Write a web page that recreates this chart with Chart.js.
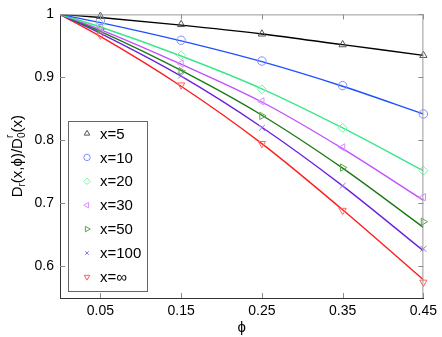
<!DOCTYPE html>
<html>
<head>
<meta charset="utf-8">
<script src="https://cdn.jsdelivr.net/npm/chart.js@4/dist/chart.umd.min.js"></script>
<style>
  html, body { margin: 0; padding: 0; background: #fff; }
  #wrap { width: 442px; height: 337px; }
</style>
</head>
<body>
<div id="wrap"><canvas id="c" width="442" height="337"></canvas></div>
<script>
// phi values where the curves are sampled, and where the symbols sit
var phiLine = [0, 0.05, 0.15, 0.25, 0.35, 0.45];
var phiMarks = [0.05, 0.15, 0.25, 0.35, 0.45];
var xTicks = [0.05, 0.15, 0.25, 0.35, 0.45];
var yTicks = [0.6, 0.7, 0.8, 0.9, 1];

var seriesNames = ["x=5", "x=10", "x=20", "x=30", "x=50", "x=100", "x=\u221e"];

// curves
var lineX5   = [1, 0.995, 0.983, 0.969, 0.952, 0.935];
var lineX10  = [1, 0.987, 0.958, 0.925, 0.886, 0.842];
var lineX20  = [1, 0.980, 0.934, 0.882, 0.820, 0.752];
var lineX30  = [1, 0.976, 0.921, 0.861, 0.787, 0.705];
var lineX50  = [1, 0.973, 0.911, 0.840, 0.756, 0.662];
var lineX100 = [1, 0.970, 0.902, 0.821, 0.728, 0.625];
var lineInf  = [1, 0.965, 0.886, 0.795, 0.690, 0.579];

// symbols (simulation points)
var markX5   = [0.997, 0.984, 0.969, 0.952, 0.935];
var markX10  = [0.990, 0.959, 0.926, 0.887, 0.842];
var markX20  = [0.985, 0.935, 0.881, 0.820, 0.752];
var markX30  = [0.980, 0.922, 0.862, 0.789, 0.710];
var markX50  = [0.977, 0.910, 0.839, 0.757, 0.671];
var markX100 = [0.975, 0.903, 0.820, 0.728, 0.628];
var markInf  = [0.967, 0.888, 0.795, 0.689, 0.575];

var lineColors = ["#000000", "#2050ff", "#3ce68a", "#c050ff", "#1c7a12", "#6a22dd", "#ff1c1c"];
var markColors = ["#555555", "#7f8fff", "#7ff0a8", "#d890ff", "#55a84a", "#9a70ee", "#ff6060"];
var markStyles = ["triangle", "circle", "rectRot", "triangle", "triangle", "crossRot", "triangle"];
var markRot = [0, 0, 0, -90, 90, 0, 180];

var allLines = [lineX5, lineX10, lineX20, lineX30, lineX50, lineX100, lineInf];
var allMarks = [markX5, markX10, markX20, markX30, markX50, markX100, markInf];

function toPoints(xs, ys) {
    return xs.map(function (x, i) { return { x: x, y: ys[i] }; });
}

var datasets = [];
allLines.forEach(function (ys, i) {
    datasets.push({
        label: seriesNames[i] + " curve",
        data: toPoints(phiLine, ys),
        showLine: true,
        borderColor: lineColors[i],
        borderWidth: 1.4,
        pointRadius: 0,
        cubicInterpolationMode: "monotone",
        order: 2
    });
});
allMarks.forEach(function (ys, i) {
    datasets.push({
        label: seriesNames[i],
        data: toPoints(phiMarks, ys),
        showLine: false,
        clip: false,
        borderColor: markColors[i],
        backgroundColor: "rgba(0,0,0,0)",
        pointStyle: markStyles[i],
        rotation: markRot[i],
        pointRadius: markStyles[i] == "rectRot" ? 4.5 : 4.2,
        pointBorderWidth: 1,
        order: 1
    });
});

// ticks pointing inward on all four sides, box, y title, legend box
var framePlugin = {
    id: "frame",
    afterDraw: function (chart) {
        var ctx = chart.ctx;
        var a = chart.chartArea;
        var xs = chart.scales.x, ys = chart.scales.y;
        ctx.save();
        ctx.lineWidth = 1;
        ctx.strokeStyle = "#8a8a8a";
        ctx.beginPath();
        xTicks.forEach(function (t) {
            var px = Math.round(xs.getPixelForValue(t)) + 0.5;
            ctx.moveTo(px, a.bottom); ctx.lineTo(px, a.bottom - 5);
            ctx.moveTo(px, a.top); ctx.lineTo(px, a.top + 5);
        });
        yTicks.forEach(function (t) {
            var py = Math.round(ys.getPixelForValue(t)) + 0.5;
            ctx.moveTo(a.left, py); ctx.lineTo(a.left + 5, py);
            ctx.moveTo(a.right, py); ctx.lineTo(a.right - 5, py);
        });
        ctx.stroke();
        // top and right borders
        ctx.strokeStyle = "#999999";
        ctx.beginPath();
        ctx.moveTo(a.left, a.top + 0.5); ctx.lineTo(a.right, a.top + 0.5);
        ctx.moveTo(a.right - 0.5, a.top); ctx.lineTo(a.right - 0.5, a.bottom);
        ctx.stroke();

        // y axis title with sub/superscripts
        ctx.fillStyle = "#000";
        ctx.translate(18, (a.top + a.bottom) / 2);
        ctx.rotate(-Math.PI / 2);
        var big = "15px 'Liberation Sans', Arial, sans-serif";
        var small = "10px 'Liberation Sans', Arial, sans-serif";
        var parts = [
            ["D", big, 0], ["r", small, 4], ["(x,\u03d5)/D", big, 0],
            ["0", small, 4], ["r", small, -8], ["(x)", big, 0]
        ];
        var total = 0;
        parts.forEach(function (p, i) {
            ctx.font = p[1];
            if (i != 4) total += ctx.measureText(p[0]).width;
        });
        var cx = -total / 2;
        ctx.textBaseline = "middle";
        ctx.textAlign = "left";
        var w0 = 0;
        parts.forEach(function (p, i) {
            ctx.font = p[1];
            var w = ctx.measureText(p[0]).width;
            if (i == 4) {
                ctx.fillText(p[0], cx - w0, p[2]);
            } else {
                ctx.fillText(p[0], cx, p[2]);
                cx += w;
                w0 = w;
            }
        });
        ctx.restore();

        // legend
        ctx.save();
        var lx = 68, ly = 121, lw = 79, lh = 170;
        ctx.fillStyle = "#fff";
        ctx.fillRect(lx, ly, lw, lh);
        ctx.strokeStyle = "#666";
        ctx.lineWidth = 1;
        ctx.strokeRect(lx + 0.5, ly + 0.5, lw, lh);
        ctx.font = "15px 'Liberation Sans', Arial, sans-serif";
        ctx.textBaseline = "middle";
        seriesNames.forEach(function (name, i) {
            var yy = 133.5 + i * 23.9;
            ctx.strokeStyle = markColors[i];
            ctx.fillStyle = "rgba(0,0,0,0)";
            ctx.lineWidth = 1;
            Chart.helpers.drawPoint(ctx, {
                pointStyle: markStyles[i],
                rotation: markRot[i],
                radius: markStyles[i] == "crossRot" ? 2.5 : 3.2,
                borderWidth: 1
            }, 87, yy);
            ctx.fillStyle = "#000";
            ctx.fillText(name, 100, yy + 1);
        });
        ctx.restore();
    }
};

new Chart(document.getElementById("c"), {
    type: "scatter",
    data: { datasets: datasets },
    plugins: [framePlugin],
    options: {
        responsive: false,
        animation: false,
        layout: { padding: { left: 0, right: 18, top: 12, bottom: 0 } },
        plugins: {
            legend: { display: false },
            tooltip: { enabled: false }
        },
        scales: {
            x: {
                type: "linear",
                min: 0,
                max: 0.45,
                afterBuildTicks: function (s) {
                    s.ticks = xTicks.map(function (v) { return { value: v }; });
                },
                afterFit: function (s) { s.height = 39; },
                grid: { display: false, drawTicks: false },
                border: { display: true, color: "#333", width: 1 },
                ticks: {
                    padding: 5,
                    color: "#000",
                    font: { family: "'Liberation Sans', Arial, sans-serif", size: 14 },
                    callback: function (v) { return String(Math.round(v * 100) / 100); }
                },
                title: {
                    display: true,
                    text: "\u03d5",
                    color: "#000",
                    padding: { top: 0, bottom: 0 },
                    font: { family: "'Liberation Sans', Arial, sans-serif", size: 15 }
                }
            },
            y: {
                type: "linear",
                min: 0.55,
                max: 1,
                afterBuildTicks: function (s) {
                    s.ticks = yTicks.map(function (v) { return { value: v }; });
                },
                afterFit: function (s) { s.width = 60; },
                grid: { display: false, drawTicks: false },
                border: { display: true, color: "#333", width: 1 },
                ticks: {
                    padding: 6,
                    color: "#000",
                    font: { family: "'Liberation Sans', Arial, sans-serif", size: 14 },
                    callback: function (v) { return String(Math.round(v * 10) / 10); }
                }
            }
        }
    }
});
</script>
</body>
</html>
